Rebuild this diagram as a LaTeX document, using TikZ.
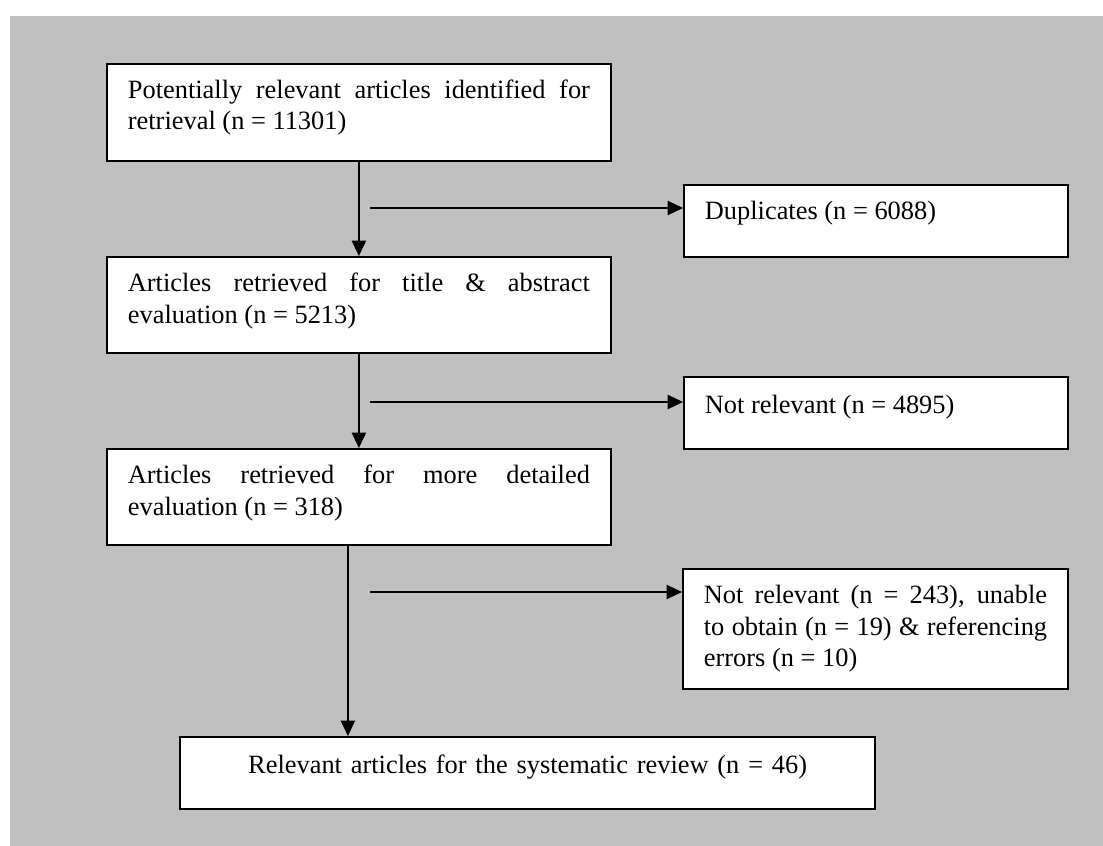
\documentclass[tikz,border=0pt]{standalone}
\usepackage{fontspec}
\setmainfont{Liberation Serif}
\usetikzlibrary{arrows.meta}
\definecolor{bggray}{RGB}{192,192,192}
\hyphenpenalty=10000

\begin{document}
\begin{tikzpicture}[x=0.4545pt,y=-0.4545pt,
font=\fontsize{12}{14.1}\selectfont,
box/.style={draw,line width=0.9pt,fill=white,inner xsep=9.5pt,inner ysep=0pt,
text height=15.9pt,align=justify},
arr/.style={line width=0.7pt,-{Triangle[length=7pt,width=6.5pt]}}]
\useasboundingbox (0,0) rectangle (1103,846);
\fill[bggray] (10,16) rectangle (1103,846);
\node[box,anchor=north west,text width=210pt,text depth=28.2pt] (A) at (106,63)
{Potentially relevant articles identified for\linebreak retrieval (n = 11301)};
\node[box,anchor=north west,text width=210pt,text depth=27.7pt] (B) at (106,256)
{Articles retrieved for title \& abstract\linebreak evaluation (n = 5213)};
\node[box,anchor=north west,text width=210pt,text depth=27.7pt] (C) at (106,448)
{Articles retrieved for more detailed\linebreak evaluation (n = 318)};
\node[box,anchor=north west,text width=297pt,text height=16.4pt,text depth=16.4pt,align=center] (D) at (179,736)
{Relevant articles for the systematic review (n = 46)};
\node[box,anchor=north west,text width=155.5pt,text height=15.5pt,text depth=17.3pt] (E) at (683,184)
{Duplicates (n = 6088)};
\node[box,anchor=north west,text width=155.5pt,text height=16.4pt,text depth=16.4pt] (F) at (683,376)
{Not relevant (n = 4895)};
\node[box,anchor=north west,text width=156pt,text depth=38.6pt] (G) at (682,568)
{Not relevant (n = 243), unable\linebreak to obtain (n = 19) \& referencing\linebreak errors (n = 10)};
\coordinate (s1) at (370,208);
\coordinate (s2) at (370,402);
\coordinate (s3) at (370,592);
\draw[arr] (A) -- (B);
\draw[arr] (B) -- (C);
\draw[arr] ([xshift=-5pt]C.south) -- ([xshift=-5pt]C.south |- D.north);
\draw[arr] (s1) -- (s1 -| E.west);
\draw[arr] (s2) -- (s2 -| F.west);
\draw[arr] (s3) -- (s3 -| G.west);
\end{tikzpicture}
\end{document}
